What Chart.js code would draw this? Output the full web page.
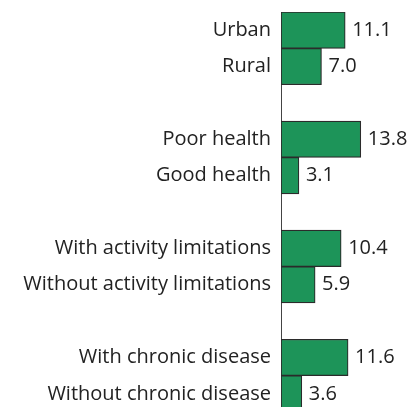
<!DOCTYPE html>
<html>
<head>
<meta charset="utf-8">
<script src="https://cdn.jsdelivr.net/npm/chart.js@4.4.0/dist/chart.umd.min.js"></script>
<style>
  html, body { margin: 0; padding: 0; background: #fff; overflow: hidden; }
  #wrap { width: 414px; height: 412px; position: relative; }
</style>
</head>
<body>
<div id="wrap"><canvas id="chart"></canvas></div>
<script>
// categories ('' = spacer between groups)
const categories = [
  'Urban', 'Rural', '',
  'Poor health', 'Good health', '',
  'With activity limitations', 'Without activity limitations', '',
  'With chronic disease', 'Without chronic disease'
];
const values = [11.1, 7.0, null, 13.8, 3.1, null, 10.4, 5.9, null, 11.6, 3.6];

const FONT = '"Open Sans", sans-serif';

// draw value at end of each bar
const valueLabels = {
  id: 'valueLabels',
  afterDatasetsDraw(chart) {
    const ctx = chart.ctx;
    const meta = chart.getDatasetMeta(0);
    ctx.save();
    ctx.font = '20px ' + FONT;
    ctx.fillStyle = '#222';
    ctx.textAlign = 'left';
    ctx.textBaseline = 'middle';
    meta.data.forEach((bar, i) => {
      const v = values[i];
      if (v === null) return;
      ctx.fillText(v.toFixed(1), bar.x + 7, bar.y);
    });
    ctx.restore();
  }
};

new Chart(document.getElementById('chart'), {
  type: 'bar',
  data: {
    labels: categories,
    datasets: [{
      data: values,
      backgroundColor: '#1d9459',
      borderColor: '#2b2b2b',
      borderWidth: 1.2,
      borderSkipped: false,
      barPercentage: 1,
      categoryPercentage: 1
    }]
  },
  options: {
    indexAxis: 'y',
    responsive: true,
    maintainAspectRatio: false,
    animation: false,
    layout: { padding: { top: 12, right: 0, bottom: 0, left: 0 } },
    plugins: { legend: { display: false }, tooltip: { enabled: false } },
    scales: {
      x: { display: false, min: 0, max: 23 },
      y: {
        afterFit(scale) {
          scale.width = 281;
          scale.paddingTop = 0;
          scale.paddingBottom = 0;
        },
        grid: { display: false, drawTicks: false },
        border: { display: true, color: '#444', width: 1 },
        ticks: { padding: 10, color: '#222', font: { family: FONT, size: 20 } }
      }
    }
  },
  plugins: [valueLabels]
});
</script>
</body>
</html>
